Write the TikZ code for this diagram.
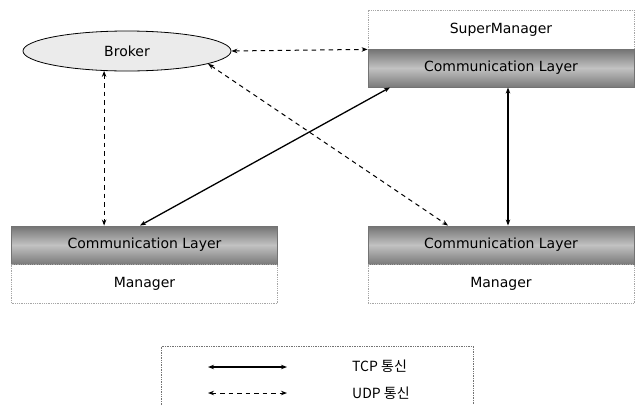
\documentclass[tikz,border=0pt]{standalone}
\usepackage{fontspec}
\setmainfont{DejaVu Sans}
\newfontfamily\kr{Noto Sans CJK KR}
\usetikzlibrary{arrows.meta,calc,shapes.geometric}
\begin{document}
\begin{tikzpicture}[x=1pt,y=-1pt,
  lbl/.style={font=\fontsize{14}{16}\selectfont},
  commbox/.style={rectangle,minimum width=266pt,minimum height=38pt,inner sep=0pt,
    top color=black!55,bottom color=black!52,middle color=black!24,draw=black!55,line width=0.9pt,lbl},
  mgrbox/.style={rectangle,minimum width=266pt,minimum height=39pt,inner sep=0pt,
    fill=white,draw=black!35,densely dotted,line width=0.8pt,lbl},
  tcp/.style={{Stealth[length=6pt,width=4.5pt]}-{Stealth[length=6pt,width=4.5pt]},line width=1.3pt,black},
  udp/.style={{Stealth[length=6pt,width=4.5pt]}-{Stealth[length=6pt,width=4.5pt]},line width=1pt,black,dash pattern=on 4.5pt off 4pt},
  leg/.style={font=\kr\fontsize{14}{16}\selectfont,inner sep=0pt}
]
\useasboundingbox (0,0) rectangle (638,405);
% Broker
\node[ellipse,draw=black,line width=0.8pt,fill=black!8,minimum width=208pt,minimum height=40pt,inner sep=0pt,lbl] (brk) at (127,51) {Broker};
% SuperManager stack
\node[mgrbox] (sm) at (501,29.5) {SuperManager};
\node[commbox] (scomm) at (501,68) {Communication Layer};
% bottom-left stack
\node[commbox] (lcomm) at (144.5,245) {Communication Layer};
\node[mgrbox] (lmgr) at (144.5,284) {Manager};
% bottom-right stack
\node[commbox] (rcomm) at (501,245) {Communication Layer};
\node[mgrbox] (rmgr) at (501,284) {Manager};
% connectors
\draw[udp] (brk.east) -- (sm.south west);
\draw[udp] (brk.221.6) -- (brk.221.6 |- lcomm.north);
\draw[udp] (brk.351.7) -- ($(rcomm.north)+(-53,0)$);
\draw[tcp] ($(lcomm.north)+(-4.5,0)$) -- ($(scomm.south)+(-111,0)$);
\draw[tcp] ($(scomm.south)+(7,0)$) -- ($(rcomm.north)+(7,0)$);
% legend
\draw[black!55,densely dotted,line width=0.7pt] (161,405) -- (161,346) coordinate (lgtl) -- (473,346) coordinate (lgtr) -- (473,405);
\coordinate (t1) at (208,367);
\coordinate (t2) at (287,367);
\coordinate (u1) at (208,393);
\coordinate (u2) at (287,393);
\draw[tcp] (t1) -- (t2);
\draw[udp] (u1) -- (u2);
\node[leg,anchor=west] (ltcp) at (352,366) {TCP 통신};
\node[leg,anchor=west] (ludp) at (352,393) {UDP 통신};
\end{tikzpicture}
\end{document}
